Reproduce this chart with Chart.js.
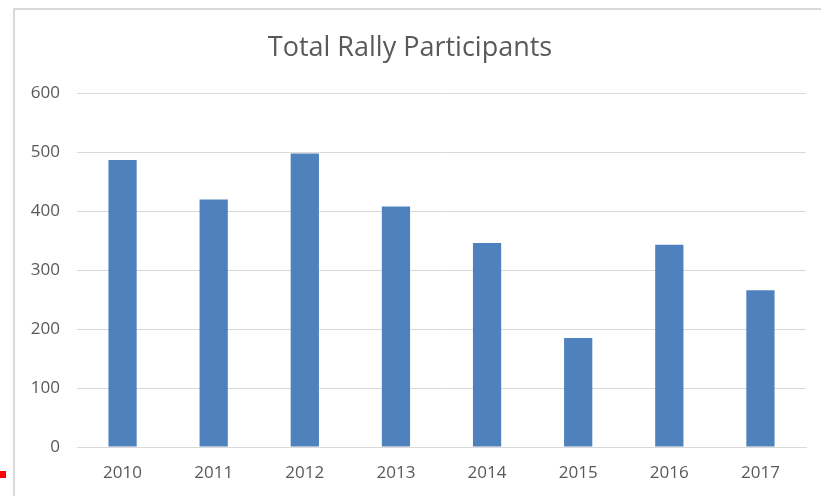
<!DOCTYPE html>
<html>
<head>
<meta charset="utf-8">
<script src="https://cdn.jsdelivr.net/npm/chart.js@4/dist/chart.umd.min.js"></script>
<style>
  html, body { margin: 0; padding: 0; background: #ffffff; }
  #wrap { position: relative; width: 821px; height: 496px; }
  canvas { display: block; }
</style>
</head>
<body>
<div id="wrap"><canvas id="c" width="821" height="496"></canvas></div>
<script>
const categories = ["2010", "2011", "2012", "2013", "2014", "2015", "2016", "2017"];
const participants = [487, 420, 498, 408, 346, 185, 343, 266];
const yTicks = [0, 100, 200, 300, 400, 500, 600];
const chartTitle = "Total Rally Participants";

const textColor = "#595959";
const gridColor = "#d9d9d9";
const fontFamily = "'Open Sans', 'Noto Sans', sans-serif";

const frame = {
  id: "frame",
  beforeDraw(chart) {
    const ctx = chart.ctx;
    ctx.save();
    ctx.fillStyle = "#ffffff";
    ctx.fillRect(0, 0, chart.width, chart.height);
    ctx.strokeStyle = gridColor;
    ctx.lineWidth = 2;
    ctx.beginPath();
    ctx.moveTo(14, chart.height);
    ctx.lineTo(14, 9);
    ctx.lineTo(chart.width, 9);
    ctx.stroke();
    ctx.fillStyle = "#ff0000";
    ctx.fillRect(0, 471, 6, 7);
    ctx.restore();
  }
};

new Chart(document.getElementById("c"), {
  type: "bar",
  data: {
    labels: categories,
    datasets: [{
      label: "Participants",
      data: participants,
      backgroundColor: "#4f81bd",
      borderWidth: 0,
      barPercentage: 0.31,
      categoryPercentage: 1.0
    }]
  },
  options: {
    responsive: false,
    animation: false,
    devicePixelRatio: 1,
    layout: { padding: { left: 14, right: 15, top: 32, bottom: 0 } },
    plugins: {
      legend: { display: false },
      tooltip: { enabled: false },
      title: {
        display: true,
        text: chartTitle,
        color: textColor,
        font: { family: fontFamily, size: 27, weight: "normal" },
        padding: { top: 0, bottom: 29 }
      }
    },
    scales: {
      x: {
        grid: { display: false, drawTicks: false },
        border: { display: true, color: gridColor, width: 1 },
        ticks: {
          color: textColor,
          font: { family: fontFamily, size: 17 },
          padding: 16,
          maxRotation: 0
        },
        afterFit(scale) { scale.height = 49; }
      },
      y: {
        min: 0,
        max: 600,
        afterBuildTicks(scale) { scale.ticks = yTicks.map(v => ({ value: v })); },
        grid: { color: gridColor, lineWidth: 1, drawTicks: false },
        border: { display: false },
        ticks: {
          color: textColor,
          font: { family: fontFamily, size: 17 },
          padding: 17
        },
        afterFit(scale) { scale.width = 63; }
      }
    }
  },
  plugins: [frame]
});
</script>
</body>
</html>
